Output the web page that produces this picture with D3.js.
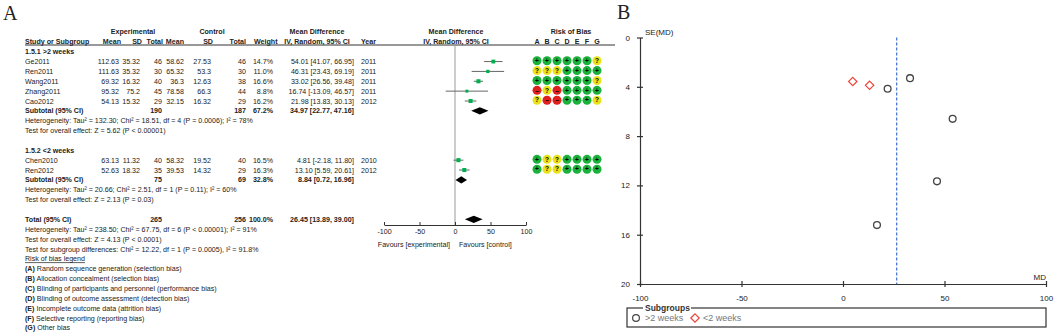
<!DOCTYPE html>
<html><head><meta charset="utf-8">
<script src="https://cdn.jsdelivr.net/npm/d3@7"></script>
<style>
body{margin:0;background:#fff;}
svg{font-family:"Liberation Sans",Arial,sans-serif;}
</style></head><body>
<svg id="chart" width="1059" height="336"></svg>
<script>
// study rows
var studies = ["Ge2011", "Ren2011", "Wang2011", "Zhang2011", "Cao2012", "Chen2010", "Ren2012"];
var subgroup = [1, 1, 1, 1, 1, 2, 2];
var expMean = ["112.63", "111.63", "69.32", "95.32", "54.13", "63.13", "52.63"];
var expSD = ["35.32", "35.32", "16.32", "75.2", "15.32", "11.32", "18.32"];
var expN = [46, 30, 40, 45, 29, 40, 35];
var ctlMean = ["58.62", "65.32", "36.3", "78.58", "32.15", "58.32", "39.53"];
var ctlSD = ["27.53", "53.3", "12.63", "66.3", "16.32", "19.52", "14.32"];
var ctlN = [46, 30, 38, 44, 29, 40, 29];
var weight = [14.7, 11.0, 16.6, 8.8, 16.2, 16.5, 16.3];
var md = [54.01, 46.31, 33.02, 16.74, 21.98, 4.81, 13.10];
var ciLo = [41.07, 23.43, 26.56, -13.09, 13.83, -2.18, 5.59];
var ciHi = [66.95, 69.19, 39.48, 46.57, 30.13, 11.80, 20.61];
var year = [2011, 2011, 2011, 2011, 2012, 2010, 2012];
var seMD = [6.60, 11.67, 3.30, 15.22, 4.16, 3.57, 3.88];

// risk of bias, domains A-G
var bias = [
  ["+", "+", "+", "+", "+", "+", "?"],
  ["?", "?", "?", "+", "+", "+", "+"],
  ["+", "+", "+", "+", "+", "+", "?"],
  ["-", "?", "-", "+", "+", "+", "+"],
  ["?", "-", "-", "+", "+", "+", "?"],
  ["+", "?", "?", "+", "+", "+", "+"],
  ["+", "?", "?", "+", "+", "+", "+"]
];
var biasDomains = ["A", "B", "C", "D", "E", "F", "G"];

// pooled rows
var pooledLabel = ["Subtotal (95% CI)", "Subtotal (95% CI)", "Total (95% CI)"];
var pooledExpN = [190, 75, 265];
var pooledCtlN = [187, 69, 256];
var pooledWeight = ["67.2%", "32.8%", "100.0%"];
var pooledMD = [34.97, 8.84, 26.45];
var pooledLo = [22.77, 0.72, 13.89];
var pooledHi = [47.16, 16.96, 39.00];

var groupLabel = ["1.5.1 >2 weeks", "1.5.2 <2 weeks"];
var hetText = [
  "Heterogeneity: Tau\u00b2 = 132.30; Chi\u00b2 = 18.51, df = 4 (P = 0.0006); I\u00b2 = 78%",
  "Heterogeneity: Tau\u00b2 = 20.66; Chi\u00b2 = 2.51, df = 1 (P = 0.11); I\u00b2 = 60%",
  "Heterogeneity: Tau\u00b2 = 238.50; Chi\u00b2 = 67.75, df = 6 (P < 0.00001); I\u00b2 = 91%"
];
var effectText = [
  "Test for overall effect: Z = 5.62 (P < 0.00001)",
  "Test for overall effect: Z = 2.13 (P = 0.03)",
  "Test for overall effect: Z = 4.13 (P < 0.0001)"
];
var subgroupText = "Test for subgroup differences: Chi\u00b2 = 12.22, df = 1 (P = 0.0005), I\u00b2 = 91.8%";
var legendLetters = ["(A)", "(B)", "(C)", "(D)", "(E)", "(F)", "(G)"];
var legendItems = [
  "Random sequence generation (selection bias)",
  "Allocation concealment (selection bias)",
  "Blinding of participants and personnel (performance bias)",
  "Blinding of outcome assessment (detection bias)",
  "Incomplete outcome data (attrition bias)",
  "Selective reporting (reporting bias)",
  "Other bias"
];
var forestTicks = [-100, -50, 0, 50, 100];
var funnelXTicks = [-100, -50, 0, 50, 100];
var funnelYTicks = [0, 4, 8, 12, 16, 20];

var svg = d3.select("#chart");
var fs = 7.1;
var ink = "#222";
var rowY = function(i) { return 51.7 + i * 9.86; };

function txt(x, y, s, anchor, bold) {
  return svg.append("text")
    .attr("x", x).attr("y", y + 2.6)
    .attr("text-anchor", anchor || "start")
    .style("font-size", fs + "px")
    .style("font-weight", bold ? "bold" : "normal")
    .attr("fill", ink)
    .text(s);
}
function ci(m, l, h) {
  return m.toFixed(2) + " [" + l.toFixed(2) + ", " + h.toFixed(2) + "]";
}

// column right edges for the table
var cExpMean = 119, cExpSD = 140, cExpN = 162, cCtlMean = 184, cCtlSD = 211, cCtlN = 246, cW = 273;

// ---------------- panel A ----------------
svg.append("text").attr("x", 3).attr("y", 20)
  .style("font-family", "'Liberation Serif','Times New Roman',serif")
  .style("font-size", "20px").attr("fill", ink).text("A");

// header
txt(133, 31.7, "Experimental", "middle", true);
txt(212, 31.7, "Control", "middle", true);
txt(317, 31.7, "Mean Difference", "middle", true);
txt(456, 31.7, "Mean Difference", "middle", true);
txt(571, 31.7, "Risk of Bias", "middle", true);
txt(25, 41.7, "Study or Subgroup", "start", true);
txt(cExpMean + 2, 41.7, "Mean", "end", true);
txt(cExpSD + 2, 41.7, "SD", "end", true);
txt(cExpN + 1, 41.7, "Total", "end", true);
txt(cCtlMean, 41.7, "Mean", "end", true);
txt(cCtlSD + 2, 41.7, "SD", "end", true);
txt(cCtlN, 41.7, "Total", "end", true);
txt(254, 41.7, "Weight", "start", true);
txt(317, 41.7, "IV, Random, 95% CI", "middle", true);
txt(361, 41.7, "Year", "start", true);
txt(456, 41.7, "IV, Random, 95% CI", "middle", true);

var colX = d3.scaleBand().domain(biasDomains).range([532, 602]);
biasDomains.forEach(function(d) {
  txt(colX(d) + colX.bandwidth() / 2, 41.7, d, "middle", true);
});
svg.append("line").attr("x1", 25).attr("x2", 615).attr("y1", 45).attr("y2", 45)
  .attr("stroke", "#333").attr("stroke-width", 1);

var studyRow = [1, 2, 3, 4, 5, 11, 12];
var groupRow = [0, 10];
var pooledRow = [6, 13, 17];
var hetRow = [7, 14, 18];
var effectRow = [8, 15, 19];

groupLabel.forEach(function(g, i) { txt(25, rowY(groupRow[i]), g, "start", true); });

studies.forEach(function(s, i) {
  var y = rowY(studyRow[i]);
  txt(25, y, s);
  txt(cExpMean, y, expMean[i], "end");
  txt(cExpSD, y, expSD[i], "end");
  txt(cExpN, y, expN[i], "end");
  txt(cCtlMean, y, ctlMean[i], "end");
  txt(cCtlSD, y, ctlSD[i], "end");
  txt(cCtlN, y, ctlN[i], "end");
  txt(cW, y, weight[i].toFixed(1) + "%", "end");
  txt(354, y, ci(md[i], ciLo[i], ciHi[i]), "end");
  txt(361, y, year[i]);
});

pooledLabel.forEach(function(p, i) {
  var y = rowY(pooledRow[i]);
  txt(25, y, p, "start", true);
  txt(cExpN, y, pooledExpN[i], "end", true);
  txt(cCtlN, y, pooledCtlN[i], "end", true);
  txt(cW, y, pooledWeight[i], "end", true);
  txt(354, y, ci(pooledMD[i], pooledLo[i], pooledHi[i]), "end", true);
});
hetText.forEach(function(h, i) { txt(25, rowY(hetRow[i]), h); });
effectText.forEach(function(h, i) { txt(25, rowY(effectRow[i]), h); });
txt(25, rowY(20), subgroupText);
txt(25, rowY(21), "Risk of bias legend").style("text-decoration", "underline");
legendItems.forEach(function(l, i) {
  var t = txt(25, rowY(22 + i), "");
  t.append("tspan").style("font-weight", "bold").text(legendLetters[i]);
  t.append("tspan").text(" " + l);
});

// forest graph
var fx = d3.scaleLinear().domain([-100, 100]).range([384, 526]);
var axisY = 225;
svg.append("line").attr("x1", fx(0)).attr("x2", fx(0)).attr("y1", 46).attr("y2", axisY)
  .attr("stroke", "#999").attr("stroke-width", 1);

var gfx = svg.append("g").attr("transform", "translate(0," + axisY + ")")
  .call(d3.axisBottom(fx).tickValues(forestTicks).tickFormat(function(d) { return String(d); })
    .tickSizeInner(-3).tickSizeOuter(0).tickPadding(4));
gfx.select(".domain").attr("stroke", "#333");
gfx.selectAll(".tick line").attr("stroke", "#333");
gfx.selectAll(".tick text").attr("fill", ink).style("font-size", fs + "px")
  .style("font-family", "'Liberation Sans',Arial,sans-serif");
txt(450, 244, "Favours [experimental]", "end");
txt(459, 244, "Favours [control]", "start");

var studyG = svg.append("g");
studyG.selectAll("line.ci").data(studies).enter().append("line")
  .attr("x1", function(d, i) { return fx(ciLo[i]); })
  .attr("x2", function(d, i) { return fx(ciHi[i]); })
  .attr("y1", function(d, i) { return rowY(studyRow[i]); })
  .attr("y2", function(d, i) { return rowY(studyRow[i]); })
  .attr("stroke", "#666").attr("stroke-width", 1);
studyG.selectAll("rect").data(studies).enter().append("rect")
  .attr("width", function(d, i) { return Math.sqrt(weight[i]) * 1.0; })
  .attr("height", function(d, i) { return Math.sqrt(weight[i]) * 1.0; })
  .attr("x", function(d, i) { return fx(md[i]) - Math.sqrt(weight[i]) * 0.5; })
  .attr("y", function(d, i) { return rowY(studyRow[i]) - Math.sqrt(weight[i]) * 0.5; })
  .attr("fill", "#00b050");

svg.append("g").selectAll("path").data(pooledMD).enter().append("path")
  .attr("d", function(d, i) {
    var y = rowY(pooledRow[i]);
    return "M" + fx(pooledLo[i]) + "," + y + "L" + fx(d) + "," + (y - 3.6) +
      "L" + fx(pooledHi[i]) + "," + y + "L" + fx(d) + "," + (y + 3.6) + "Z";
  })
  .attr("fill", "#000");

// risk of bias dots
var biasColor = { "+": "#19b23b", "?": "#e8e21a", "-": "#e0201c" };
studies.forEach(function(s, i) {
  var y = rowY(studyRow[i]) - 0.8;
  bias[i].forEach(function(b, j) {
    var cx = colX(biasDomains[j]) + colX.bandwidth() / 2;
    svg.append("circle").attr("cx", cx).attr("cy", y).attr("r", 4.5).attr("fill", biasColor[b]);
    svg.append("text").attr("x", cx).attr("y", y + 2.2).attr("text-anchor", "middle")
      .style("font-size", "6.5px").style("font-weight", "bold").attr("fill", "#000")
      .text(b === "-" ? "\u2013" : b);
  });
});

// ---------------- panel B ----------------
svg.append("text").attr("x", 617).attr("y", 19)
  .style("font-family", "'Liberation Serif','Times New Roman',serif")
  .style("font-size", "20px").attr("fill", ink).text("B");

var bx = d3.scaleLinear().domain([-100, 100]).range([640, 1046]);
var by = d3.scaleLinear().domain([0, 20]).range([37.5, 284]);

var gbx = svg.append("g").attr("transform", "translate(0,284)")
  .call(d3.axisBottom(bx).tickValues(funnelXTicks).tickFormat(function(d) { return String(d); })
    .tickSizeOuter(0).tickPadding(5));
var gby = svg.append("g").attr("transform", "translate(640,0)")
  .call(d3.axisLeft(by).tickValues(funnelYTicks).tickSizeOuter(0).tickPadding(4));
gbx.selectAll(".tick line").attr("y1", -3).attr("y2", 3);
gby.selectAll(".tick line").attr("x1", -3).attr("x2", 3);
[gbx, gby].forEach(function(g) {
  g.select(".domain").attr("stroke", "#333").attr("stroke-width", 1.2);
  g.selectAll(".tick line").attr("stroke", "#333").attr("stroke-width", 1.2);
  g.selectAll(".tick text").attr("fill", ink).style("font-size", "8px")
    .style("font-family", "'Liberation Sans',Arial,sans-serif");
});
svg.append("text").attr("x", 645).attr("y", 35).style("font-size", "8px").attr("fill", ink).text("SE(MD)");
svg.append("text").attr("x", 1046).attr("y", 280).attr("text-anchor", "end")
  .style("font-size", "8px").attr("fill", ink).text("MD");

svg.append("line").attr("x1", bx(pooledMD[2])).attr("x2", bx(pooledMD[2]))
  .attr("y1", by(0)).attr("y2", by(20))
  .attr("stroke", "#3a6fd0").attr("stroke-width", 1.2).attr("stroke-dasharray", "3,2");

var pts = svg.append("g");
studies.forEach(function(s, i) {
  var x = bx(md[i]), y = by(seMD[i]);
  if (subgroup[i] === 1) {
    pts.append("circle").attr("cx", x).attr("cy", y).attr("r", 3.4)
      .attr("fill", "none").attr("stroke", "#444").attr("stroke-width", 1.3);
  } else {
    pts.append("path").attr("d", "M" + x + "," + (y - 4.2) + "L" + (x + 4.2) + "," + y +
      "L" + x + "," + (y + 4.2) + "L" + (x - 4.2) + "," + y + "Z")
      .attr("fill", "none").attr("stroke", "#e8443a").attr("stroke-width", 1.2);
  }
});

// legend
svg.append("rect").attr("x", 627).attr("y", 308).attr("width", 419).attr("height", 19)
  .attr("fill", "none").attr("stroke", "#333").attr("stroke-width", 1.2);
svg.append("rect").attr("x", 643).attr("y", 303).attr("width", 48).attr("height", 9).attr("fill", "#fff");
svg.append("text").attr("x", 645).attr("y", 311).style("font-size", "8.5px").style("font-weight", "bold")
  .attr("fill", "#333").text("Subgroups");
svg.append("circle").attr("cx", 636).attr("cy", 318).attr("r", 3.4)
  .attr("fill", "none").attr("stroke", "#444").attr("stroke-width", 1.2);
svg.append("text").attr("x", 645).attr("y", 321).style("font-size", "9px").attr("fill", "#777").text(">2 weeks");
svg.append("path").attr("d", "M695,313.8L699.2,318L695,322.2L690.8,318Z")
  .attr("fill", "none").attr("stroke", "#e8443a").attr("stroke-width", 1.2);
svg.append("text").attr("x", 703).attr("y", 321).style("font-size", "9px").attr("fill", "#777").text("<2 weeks");
</script>
</body></html>
